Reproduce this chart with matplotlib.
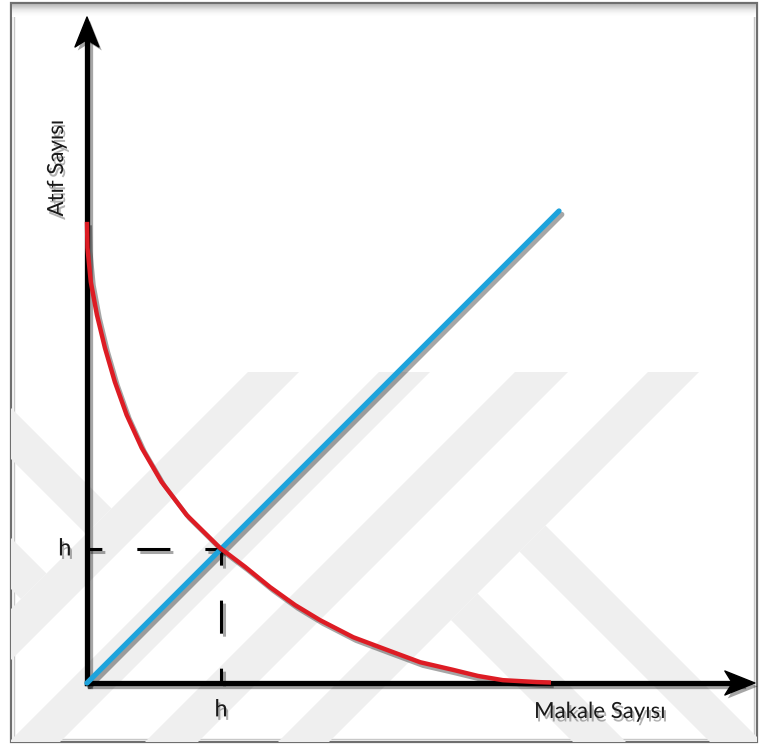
import matplotlib.pyplot as plt
import matplotlib.patheffects as pe
from matplotlib.patches import Polygon, Rectangle
from matplotlib.markers import MarkerStyle
from matplotlib.path import Path
from matplotlib.transforms import Affine2D

plt.rcParams['lines.scale_dashes'] = False

# conceptual h-index sketch (arbitrary units)
line_x = [0, 10]
line_y = [0, 10]
curve_x = [0.0, 0.01, 0.08, 0.21, 0.38, 0.59, 0.84, 1.16, 1.58, 2.11, 2.82,
           3.35, 3.88, 4.41, 4.94, 5.64, 6.36, 7.06, 7.75, 8.28, 8.81, 9.53, 9.83]
curve_y = [9.77, 9.22, 8.50, 7.80, 7.10, 6.38, 5.68, 4.98, 4.26, 3.56, 2.86,
           2.46, 2.03, 1.65, 1.33, 0.97, 0.70, 0.44, 0.28, 0.15, 0.06, 0.02, 0.01]
h_value = 2.84
x_label = 'Makale Sayısı'
y_label = 'Atıf Sayısı'
h_label = 'h'

W, H = 761, 747
FONT = ['Lato', 'DejaVu Sans']

fig = plt.figure(figsize=(W / 100, H / 100), dpi=100)

# background layer in pixel units: frame and faint watermark
bg = fig.add_axes([0, 0, 1, 1])
bg.set_xlim(0, W)
bg.set_ylim(H, 0)
bg.axis('off')

frame = Rectangle((11, 3), 746, 739, facecolor='white', edgecolor='#6f6f6f', lw=1.6)
bg.add_patch(frame)
bg.add_patch(Rectangle((14, 6), 740, 733, facecolor='none', edgecolor='#c8c8c8', lw=1.0))
# shadow band along the top edge
grad = [[v] for v in [0.72, 0.78, 0.83, 0.87, 0.91, 0.94, 0.96, 0.98, 0.99, 1.0]]
bg.imshow(grad, cmap='gray', vmin=0, vmax=1, extent=(12, 756, 17, 4), aspect='auto', zorder=2)

band_color = '#efefef'
slash_bands = [(620, 671), (751, 802), (887, 940), (1020, 1071)]
for c1, c2 in slash_bands:
    poly = Polygon([(c1 - 372, 372), (c2 - 372, 372), (c2 - 742, 742), (c1 - 742, 742)],
                   closed=True, facecolor=band_color, edgecolor='none', zorder=1)
    bg.add_patch(poly)
    poly.set_clip_path(frame)
back_bands = [
    [(0, 397), (111.5, 508.5), (86, 534), (0, 448)],
    [(0, 527), (46.5, 573.5), (21, 599), (0, 578)],
    [(545.5, 525.5), (800, 780), (800, 832), (519.5, 551.5)],
    [(477.5, 593.5), (800, 916), (800, 969), (451, 620)],
]
for pts in back_bands:
    poly = Polygon(pts, closed=True, facecolor=band_color, edgecolor='none', zorder=1)
    bg.add_patch(poly)
    poly.set_clip_path(frame)

# chart layer
px_unit = 47.2
ox, oy = 87, 683
x_end, y_end = 14.15, 14.11
ax = fig.add_axes([ox / W, (H - oy) / H, x_end * px_unit / W, y_end * px_unit / H])
ax.set_xlim(0, x_end)
ax.set_ylim(0, y_end)
ax.axis('off')

shadow = [pe.SimpleLineShadow(offset=(2, -2.5), shadow_color='black', alpha=0.35), pe.Normal()]
head_back = 15 / px_unit

ax.plot([0, x_end - head_back], [0, 0], color='black', lw=3.8, solid_capstyle='projecting',
        path_effects=shadow, clip_on=False, zorder=3)
ax.plot([0, 0], [0, y_end - head_back], color='black', lw=3.8, solid_capstyle='projecting',
        path_effects=shadow, clip_on=False, zorder=3)

head = Path([(1, 0), (-1, 0.8), (-0.5, 0), (-1, -0.8), (1, 0)],
            [Path.MOVETO, Path.LINETO, Path.LINETO, Path.LINETO, Path.CLOSEPOLY])
ax.plot([x_end - head_back], [0], marker=MarkerStyle(head), markersize=21.6, color='black',
        path_effects=[pe.SimplePatchShadow(offset=(2, -2.5), alpha=0.35), pe.Normal()],
        clip_on=False, zorder=4)
ax.plot([0], [y_end - head_back], marker=MarkerStyle(head, transform=Affine2D().rotate_deg(90)),
        markersize=21.6, color='black',
        path_effects=[pe.SimplePatchShadow(offset=(2, -2.5), alpha=0.35), pe.Normal()],
        clip_on=False, zorder=4)

# dashed guides from the crossing point
dash = (12.2, (23.8, 25.2))
ax.plot([h_value, 0], [h_value, h_value], color='black', lw=2.2, linestyle=dash,
        path_effects=shadow, clip_on=False, zorder=4)
ax.plot([h_value, h_value], [h_value, 0], color='black', lw=2.2, linestyle=dash,
        path_effects=shadow, clip_on=False, zorder=4)

ax.plot(line_x, line_y, color='#1ea3dc', lw=3.8, solid_capstyle='round',
        path_effects=shadow, clip_on=False, zorder=5)
ax.plot(curve_x, curve_y, color='#dd1c24', lw=3.2, solid_capstyle='butt', solid_joinstyle='round',
        path_effects=shadow, clip_on=False, zorder=6)

text_fx = [pe.SimplePatchShadow(offset=(1.5, -2.5), shadow_rgbFace='black', alpha=0.3), pe.Normal()]
ax.text(-0.47, h_value, h_label, ha='center', va='center', fontsize=17, family=FONT,
        color='#1a1a1a', path_effects=text_fx)
ax.text(h_value, -0.57, h_label, ha='center', va='center', fontsize=17, family=FONT,
        color='#1a1a1a', path_effects=text_fx)
bg.text(600, 712, x_label, ha='center', va='center', fontsize=16, family=FONT,
        color='#1a1a1a', path_effects=text_fx)
bg.text(57, 168, y_label, ha='center', va='center', rotation=90, fontsize=16, family=FONT,
        color='#1a1a1a', path_effects=text_fx)

fig.savefig('out.png', dpi=100)
